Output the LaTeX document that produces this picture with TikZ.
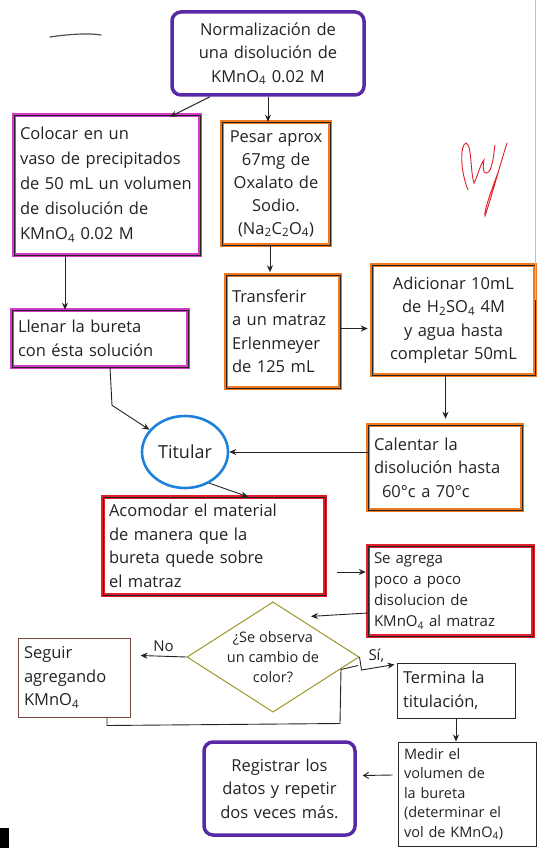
\documentclass[tikz,border=0pt]{standalone}
\usepackage{fontspec}
\setmainfont{Open Sans}
\usetikzlibrary{arrows.meta,shapes.geometric,calc}
\definecolor{cpurple}{RGB}{88,40,165}
\definecolor{cmagenta}{RGB}{210,60,200}
\definecolor{corange}{RGB}{240,120,30}
\definecolor{cblue}{RGB}{30,130,220}
\definecolor{cred}{RGB}{225,30,45}
\definecolor{colive}{RGB}{160,150,40}
\definecolor{cbrown}{RGB}{120,70,60}
\definecolor{ink}{RGB}{35,35,35}
\begin{document}
\begin{tikzpicture}[x=1pt,y=-1pt,
  every node/.style={font=\fontsize{16.5}{23.5}\selectfont, text=ink},
  cbox/.style={draw=ink, line width=0.5pt, preaction={draw=#1, line width=3.6pt}, inner xsep=6pt, inner ysep=2pt, align=left},
  rbox/.style={draw=#1, line width=3.5pt, rounded corners=9pt, inner xsep=6pt, align=center},
  pbox/.style={draw=#1, line width=1pt, inner xsep=6pt, align=left},
  arr/.style={-{Stealth[length=7pt,width=6pt]}, line width=0.9pt, draw=ink},
  lin/.style={line width=0.9pt, draw=ink}]
\path[use as bounding box, clip] (0,0) rectangle (537,848);
\fill[white] (0,0) rectangle (537,848);

% nodes
\node[rbox=cpurple, text width=180pt, minimum height=83pt] (norm) at (268,53.5)
  {Normalización de\\ una disolución de\\ KMnO\textsubscript{4} 0.02 M};
\node[cbox=cmagenta, text width=174pt, minimum height=140pt, font=\fontsize{16.5}{25}\selectfont] (colocar) at (107,185)
  {Colocar en un\\ vaso de precipitados\\ de 50 mL un volumen\\ de disolución de\\ KMnO\textsubscript{4} 0.02 M};
\node[cbox=corange, text width=96pt, minimum height=123pt, align=center, font=\fontsize{16.5}{23}\selectfont] (pesar) at (276,183.5)
  {Pesar aprox\\ 67mg de\\ Oxalato de\\ Sodio.\\ (Na\textsubscript{2}C\textsubscript{2}O\textsubscript{4})};
\node[cbox=cmagenta, text width=164pt, minimum height=57pt] (llenar) at (100,338.5)
  {Llenar la bureta\\ con ésta solución};
\node[cbox=corange, text width=102pt, minimum height=113pt] (transferir) at (283,331.5)
  {Transferir\\ a un matraz\\ Erlenmeyer\\ de 125 mL};
\node[cbox=corange, text width=151pt, minimum height=110pt, align=center] (adicionar) at (453.5,320)
  {Adicionar 10mL\\ de H\textsubscript{2}SO\textsubscript{4} 4M\\ y agua hasta\\ completar 50mL};
\node[draw=cblue, line width=2.6pt, ellipse, minimum width=86pt, minimum height=72pt, inner sep=0pt,
  font=\fontsize{18}{20}\selectfont] (titular) at (185,452) {Titular};
\node[cbox=corange, text width=142pt, minimum height=85pt] (calentar) at (445,467.5)
  {Calentar la\\ disolución hasta\\ \hspace*{8pt}60°c a 70°c};
\node[cbox=cred, text width=210pt, minimum height=98pt] (acomodar) at (214,546)
  {Acomodar el material\\ de manera que la\\ bureta quede sobre\\ el matraz};
\node[cbox=cred, text width=153pt, minimum height=90pt, font=\fontsize{15}{21}\selectfont] (seagrega) at (450.5,591)
  {Se agrega\\ poco a poco\\ disolucion de\\ KMnO\textsubscript{4} al matraz};
\node[draw=colive, line width=1pt, diamond, shape aspect=1.56, minimum width=170pt, minimum height=109pt,
  inner sep=0pt, align=center, font=\fontsize{14.5}{20}\selectfont] (dia) at (273,657)
  {¿Se observa\\ un cambio de\\ color?};
\node[pbox=cbrown, text width=100pt, minimum height=79pt] (seguir) at (74,677.5)
  {Seguir\\ agregando\\ KMnO\textsubscript{4}};
\node[pbox=ink!85!cbrown, text width=106pt, minimum height=55pt] (termina) at (456,690.5)
  {Termina la\\ titulación,};
\node[pbox=ink!85!cbrown, text width=126pt, minimum height=104pt, inner ysep=1pt, font=\fontsize{14.5}{19.5}\selectfont] (medir) at (467,794)
  {Medir el\\ volumen de\\ la bureta\\ (determinar el\\ vol de KMnO\textsubscript{4})};
\node[rbox=cpurple, text width=139pt, minimum height=93pt] (registrar) at (279.5,788.5)
  {Registrar los\\ datos y repetir\\ dos veces más.};

% connectors
\draw[arr] ($(norm.south)+(-58,0)$) -- ($(colocar.north)+(63,2)$);
\draw[arr] (norm.south) -- (norm.south |- pesar.north);
\coordinate (c1) at ($(colocar.south)+(-42,0)$);
\draw[arr] (c1) -- (c1 |- llenar.north);
\draw[arr] ($(pesar.south)+(-6,0)$) -- ($(pesar.south)+(-6,27)$);
\draw[arr] ($(transferir.east)+(0,-3)$) -- ($(transferir.east -| adicionar.west)+(-4,-3)$);
\coordinate (c2) at ($(adicionar.south)+(-8,0)$);
\draw[arr] (c2) -- ($(c2 |- calentar.north)+(0,-6)$);
\coordinate (c3) at ($(llenar.south)+(10,0)$);
\draw[arr] (c3) -- ++(2,38) -- (titular.148);
\draw[arr] (calentar.west |- titular.east) -- (titular.east);
\draw[arr] (titular.-52) -- ($(acomodar.north)+(34,0)$);
\draw[arr] ($(acomodar.east)+(12,26)$) -- ($(acomodar.east -| seagrega.west)+(-2,26)$);
\draw[arr] ($(seagrega.west)+(0,22)$) -- ($(dia.north)+(38,15)$);
\draw[arr] (dia.west) -- node[above=1pt, font=\fontsize{15}{16}\selectfont] (nolab) {No} ($(seguir.east)+(10,-22)$);
\draw[arr] (dia.east) -- ++(2,13) -- node[above=1pt, pos=0.45, font=\fontsize{15}{16}\selectfont] (silab) {Sí,} ($(termina.north west)+(-2,2)$);
\draw[lin] ($(seguir.south)+(33,0)$) -- ++(0,8) -- ++(233,-2) -- ++(1,-54) -- ++(17,-4);
\draw[arr] (termina.south) -- (termina.south |- medir.north);
\draw[arr, -{Straight Barb[length=5pt,width=6pt]}] ($(medir.west)+(-5,-19)$) -- ($(registrar.east)+(6,-13)$);

% stray marks
\draw[line width=1.2pt, ink!80, line cap=round] (50,37) .. controls (70,34) and (90,33) .. (101,35);
\draw[cred, line width=0.9pt, line cap=round]
  (468,190) .. controls (460,170) and (460,145) .. (466,143)
  .. controls (472,145) and (470,170) .. (474,183)
  .. controls (478,175) and (480,165) .. (484,160)
  .. controls (482,170) and (484,178) .. (490,170)
  .. controls (494,160) and (494,150) .. (495,145);
\draw[cred, line width=0.9pt, line cap=round]
  (507,143) .. controls (500,165) and (492,195) .. (485,216)
  .. controls (483,214) and (492,188) .. (499,170);
\draw[gray!50, line width=0.6pt] (535,0) -- (535,300);
\fill[black] (0,828) rectangle (9,848);
\end{tikzpicture}
\end{document}
